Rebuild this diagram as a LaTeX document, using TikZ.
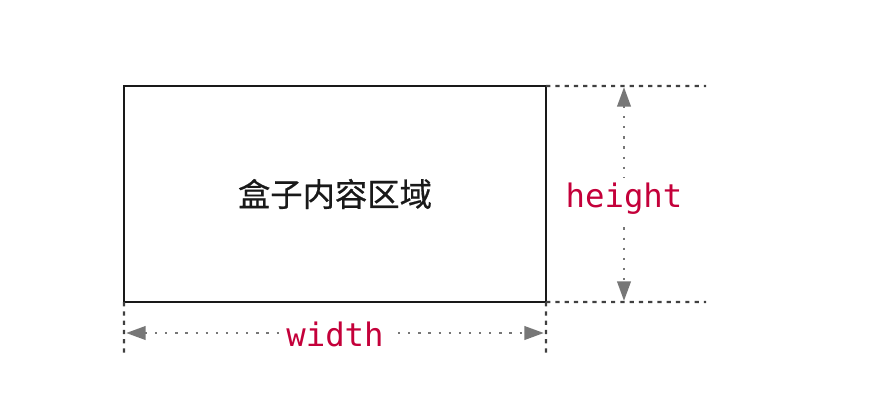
\documentclass[tikz,border=0pt]{standalone}
\usepackage{fontspec}
\setmonofont{DejaVu Sans Mono}
\newfontfamily\cjk[FakeBold=0.6]{Noto Sans CJK SC}
\usetikzlibrary{arrows.meta,positioning}
\definecolor{dimgray}{HTML}{777777}
\definecolor{labelred}{HTML}{C4003A}

\begin{document}
\begin{tikzpicture}[x=0.025cm, y=-0.025cm,
  contentbox/.style={draw=black!90, line width=1.8pt, minimum width=10.55cm, minimum height=5.4cm, inner sep=0pt, outer sep=0pt, font=\cjk\fontsize{23}{28}\selectfont, text=black!90},
  guide/.style={draw=black!75, line width=1.6pt, dash pattern=on 3pt off 3.6pt},
  dimarrow/.style={draw=dimgray, line width=2.1pt, dash pattern=on 1.6pt off 5.6pt, {Triangle[length=14pt,width=9.5pt]}-{Triangle[length=14pt,width=9.5pt]}},
  dimlabel/.style={fill=white, text=labelred, inner xsep=8pt, inner ysep=2pt, font=\ttfamily\fontsize{23}{28}\selectfont}]
        \useasboundingbox (0,0) rectangle (894,404);
        \node[contentbox] (box) at (335,194) {盒子内容区域};
        % extension lines
        \coordinate (topend) at (706,86);
        \coordinate (bottomend) at (706,302);
        \coordinate (leftend) at (124,357);
        \coordinate (rightend) at (546,357);
        \draw[guide] (box.north east) -- (topend);
        \draw[guide] (box.south east) -- (bottomend);
        \draw[guide] (box.south west) -- (leftend);
        \draw[guide] (box.south east) -- (rightend);
        % dimension arrows
        \coordinate (htop) at (624,87);
        \coordinate (hbottom) at (624,301);
        \coordinate (wleft) at (126,333);
        \coordinate (wright) at (544,333);
        \draw[dimarrow] (htop) -- (hbottom) node[midway, dimlabel, inner xsep=2pt, inner ysep=4pt, yshift=-3.5pt] (height) {height};
        \draw[dimarrow] (wleft) -- (wright) node[pos=0.5, dimlabel, inner xsep=5pt, yshift=-1pt] (width) {width};
\end{tikzpicture}
\end{document}
